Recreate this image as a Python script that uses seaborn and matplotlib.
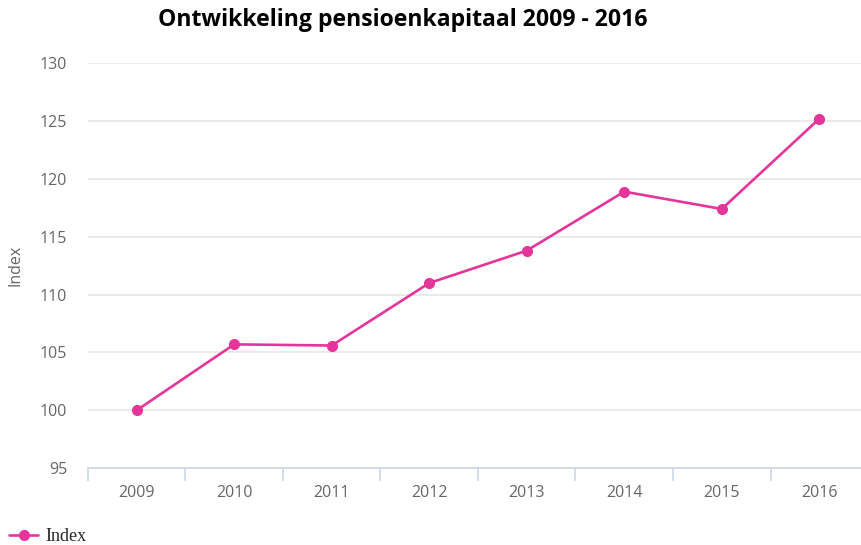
import numpy as np
import pandas as pd
import matplotlib
matplotlib.use('Agg')
import matplotlib.pyplot as plt
import seaborn as sns

# data
jaren = ['2009', '2010', '2011', '2012', '2013', '2014', '2015', '2016']
index_waarden = [100.0, 105.7, 105.6, 111.0, 113.8, 118.9, 117.4, 125.2]
y_ticks = [95, 100, 105, 110, 115, 120, 125, 130]

KLEUR = '#e5359a'

sns.set_theme(style='white')
plt.rcParams['font.family'] = ['Open Sans', 'DejaVu Sans']

df = pd.DataFrame({'jaar': jaren, 'Index': index_waarden})
df['pos'] = np.arange(len(jaren))

fig = plt.figure(figsize=(8.62, 5.45), dpi=100)
ax = fig.add_axes([0.102, 0.141, 0.905, 0.743])

sns.lineplot(data=df, x='pos', y='Index', ax=ax, color=KLEUR, linewidth=1.9,
             marker='o', markersize=8, markeredgewidth=0, label='Index', legend=False)

ax.set_ylim(95, 130)
ax.set_yticks(y_ticks)
ax.set_xlim(-0.5, len(jaren) - 0.55)
ax.set_xticks(df['pos'])
ax.set_xticklabels(jaren)
ax.set_xticks(np.arange(len(jaren) + 1) - 0.5, minor=True)

ax.grid(axis='y', color='#e6e6e6', linewidth=1.2)
ax.set_axisbelow(True)
for s in ['top', 'right', 'left']:
    ax.spines[s].set_visible(False)
ax.spines['bottom'].set_color('#ccd6eb')
ax.spines['bottom'].set_linewidth(1.2)

ax.tick_params(axis='x', which='major', length=0, pad=12, labelsize=11.5, labelcolor='#666666')
ax.tick_params(axis='x', which='minor', length=9, width=1.2, color='#ccd6eb', bottom=True)
ax.tick_params(axis='y', length=0, pad=15, labelsize=11.5, labelcolor='#666666')

ax.set_xlabel('')
ax.set_ylabel('Index', color='#666666', fontsize=11.5, labelpad=12)

fig.text(403 / 862, 1 - 20 / 545, 'Ontwikkeling pensioenkapitaal 2009 - 2016',
         ha='center', va='center', fontsize=16.6, fontweight='bold', color='#000000')

handles, labels = ax.get_legend_handles_labels()
leg = fig.legend(handles, labels, loc='lower left', bbox_to_anchor=(-0.008, -0.03),
                 frameon=False, handlelength=1.6, handletextpad=0.4,
                 prop={'family': 'Liberation Serif', 'size': 13})

fig.savefig('out.png', dpi=100)
